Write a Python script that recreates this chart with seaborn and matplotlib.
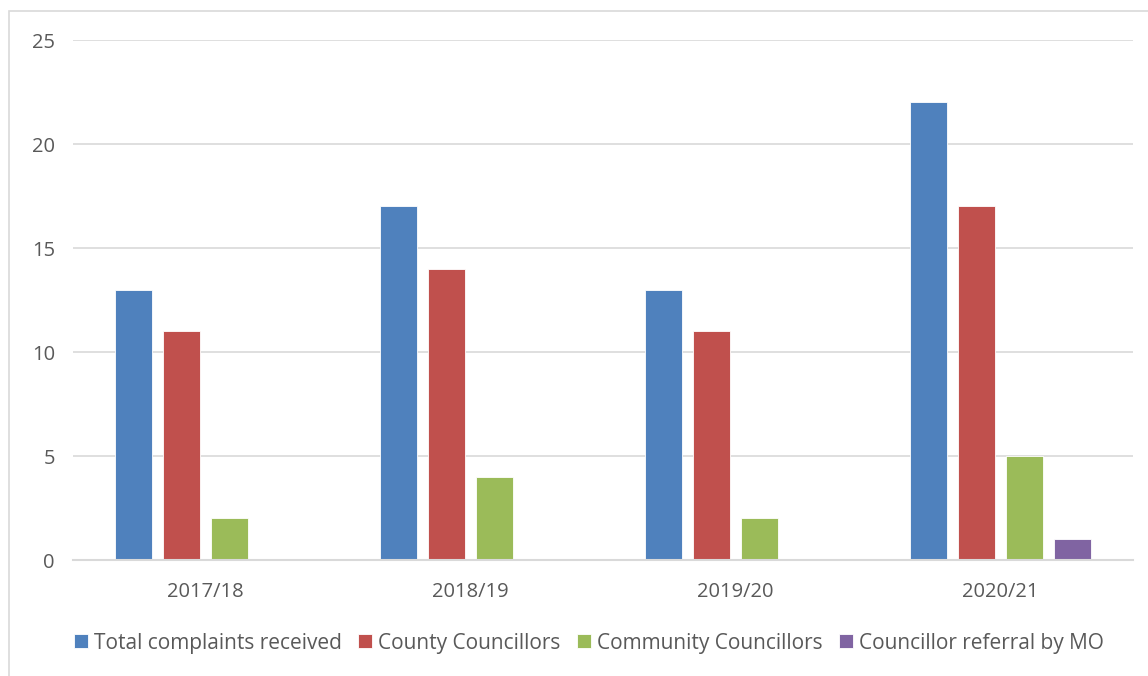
import matplotlib
matplotlib.use("Agg")
import matplotlib.pyplot as plt
import seaborn as sns
import pandas as pd
from matplotlib.patches import Rectangle

years = ["2017/18", "2018/19", "2019/20", "2020/21"]
series = ["Total complaints received", "County Councillors", "Community Councillors", "Councillor referral by MO"]
total = [13, 17, 13, 22]
county = [11, 14, 11, 17]
community = [2, 4, 2, 5]
referral = [0, 0, 0, 1]
colors = ["#4F81BD", "#C0504D", "#9BBB59", "#8064A2"]

rows = []
for s, vals in zip(series, [total, county, community, referral]):
    for y, v in zip(years, vals):
        rows.append({"year": y, "series": s, "value": v})
df = pd.DataFrame(rows)

sns.set_theme(style="white")
plt.rcParams['font.family'] = ['Open Sans', 'DejaVu Sans']

fig = plt.figure(figsize=(11.48, 6.76), dpi=100)
ax = fig.add_axes([73/1148, 1-560/676, 1060/1148, 520/676])

sns.barplot(data=df, x="year", y="value", hue="series", palette=colors,
            width=0.7245, gap=0.23, ax=ax, legend=True, saturation=1,
            edgecolor="white", linewidth=0.6)

ax.set_ylim(0, 25)
ax.set_yticks([0, 5, 10, 15, 20, 25])
ax.set_xlim(-0.5, 3.5)
ax.yaxis.grid(True, color="#D9D9D9", linewidth=1.2)
ax.set_axisbelow(True)
for sp in ["top", "right", "left"]:
    ax.spines[sp].set_visible(False)
ax.spines["bottom"].set_color("#D9D9D9")
ax.spines["bottom"].set_linewidth(1.5)
ax.set_xlabel("")
ax.set_ylabel("")
ax.tick_params(axis="both", length=0, labelsize=14.5, colors="#595959")
ax.tick_params(axis="y", pad=13)
ax.tick_params(axis="x", pad=16)

handles, labels = ax.get_legend_handles_labels()
ax.legend_.remove()
leg = fig.legend(handles, labels, loc="center", bbox_to_anchor=(589/1148, 1-643/676),
                 ncol=4, frameon=False, fontsize=15, handlelength=0.65, handleheight=0.65,
                 handletextpad=0.3, columnspacing=0.8)
for t in leg.get_texts():
    t.set_color("#595959")

fig.patches.append(Rectangle((9/1148, -0.1), 1.2, 1 - 11/676 + 0.1, transform=fig.transFigure,
                             fill=False, edgecolor="#D9D9D9", linewidth=1.2))

fig.savefig("out.png", dpi=100)
